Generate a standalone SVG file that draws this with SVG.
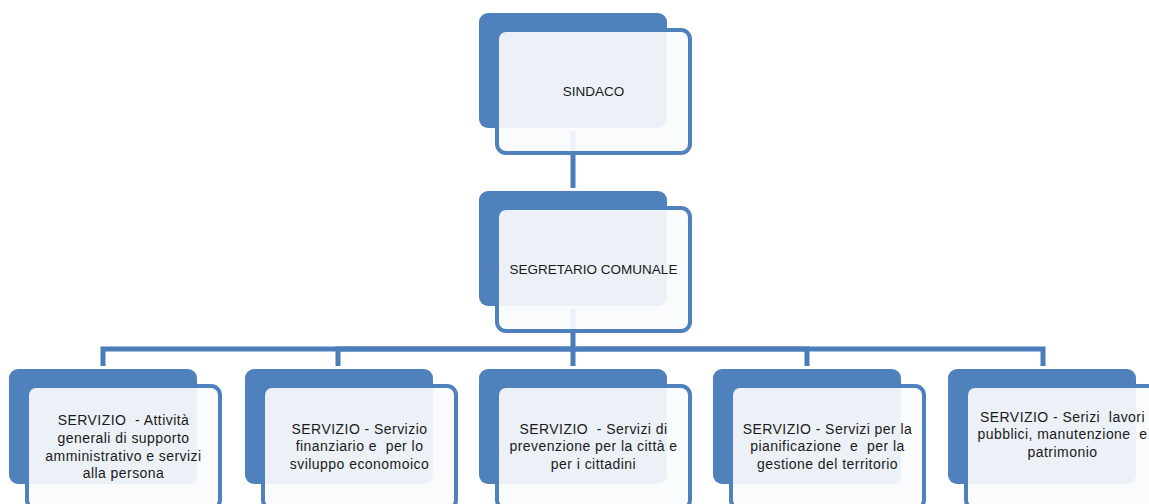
<svg xmlns="http://www.w3.org/2000/svg" width="1149" height="504" viewBox="0 0 1149 504">
<style>
.back{fill:#4F81BD;stroke:#FFFFFF;stroke-width:6;paint-order:stroke}
.front{fill:#FAFBFC;fill-opacity:0.92;stroke:#4F81BD;stroke-width:4}
.conn{fill:none;stroke:#4A7DBA;stroke-width:5;stroke-linejoin:miter}
.t{font-family:"Liberation Sans",Arial,sans-serif;font-size:13.5px;fill:#1A1A1A;text-anchor:middle;white-space:pre}
.s{font-family:"Liberation Sans",Arial,sans-serif;font-size:14px;letter-spacing:0.45px;fill:#1A1A1A;text-anchor:middle;white-space:pre}
</style>
<rect width="1149" height="504" fill="#FFFFFF"/>
<g id="connectors">
<path class="conn" d="M573,128 V191"/>
<path class="conn" d="M573,307 V349 H103 V369"/>
<path class="conn" d="M573,349 H338 V369"/>
<path class="conn" d="M573,349 V369"/>
<path class="conn" d="M573,349 H807 V369"/>
<path class="conn" d="M573,349 H1043 V369"/>
</g>
<g id="sindaco" transform="translate(479,13)">
<rect class="back" x="0" y="0" width="188" height="115" rx="9"/>
<rect class="front" x="18" y="17" width="193" height="123" rx="9"/>
<text class="t" x="114.5" y="83">SINDACO</text>
</g>
<g id="segretario" transform="translate(479,191)">
<rect class="back" x="0" y="0" width="188" height="115" rx="9"/>
<rect class="front" x="18" y="17" width="193" height="123" rx="9"/>
<text class="t" x="114.5" y="83">SEGRETARIO COMUNALE</text>
</g>
<g id="servizio1" transform="translate(9,369)">
<rect class="back" x="0" y="0" width="188" height="115" rx="9"/>
<rect class="front" x="18" y="17" width="193" height="123" rx="9"/>
<text class="s" x="114.5" y="56">SERVIZIO  - Attività</text>
<text class="s" x="114.5" y="74">generali di supporto</text>
<text class="s" x="114.5" y="91.5">amministrativo e servizi</text>
<text class="s" x="114.5" y="109">alla persona</text>
</g>
<g id="servizio2" transform="translate(245,369)">
<rect class="back" x="0" y="0" width="188" height="115" rx="9"/>
<rect class="front" x="18" y="17" width="193" height="123" rx="9"/>
<text class="s" x="114.5" y="65">SERVIZIO - Servizio</text>
<text class="s" x="114.5" y="82">finanziario e  per lo</text>
<text class="s" x="114.5" y="99.5">sviluppo economoico</text>
</g>
<g id="servizio3" transform="translate(479,369)">
<rect class="back" x="0" y="0" width="188" height="115" rx="9"/>
<rect class="front" x="18" y="17" width="193" height="123" rx="9"/>
<text class="s" x="114.5" y="65">SERVIZIO  - Servizi di</text>
<text class="s" x="114.5" y="82">prevenzione per la città e</text>
<text class="s" x="114.5" y="99.5">per i cittadini</text>
</g>
<g id="servizio4" transform="translate(713,369)">
<rect class="back" x="0" y="0" width="188" height="115" rx="9"/>
<rect class="front" x="18" y="17" width="193" height="123" rx="9"/>
<text class="s" x="114.5" y="65">SERVIZIO - Servizi per la</text>
<text class="s" x="114.5" y="82">pianificazione  e  per la</text>
<text class="s" x="114.5" y="99.5">gestione del territorio</text>
</g>
<g id="servizio5" transform="translate(948,369)">
<rect class="back" x="0" y="0" width="188" height="115" rx="9"/>
<rect class="front" x="18" y="17" width="193" height="123" rx="9"/>
<text class="s" x="114.5" y="52.5">SERVIZIO - Serizi  lavori</text>
<text class="s" x="114.5" y="70">pubblici, manutenzione  e</text>
<text class="s" x="114.5" y="87.5">patrimonio</text>
</g>
</svg>
